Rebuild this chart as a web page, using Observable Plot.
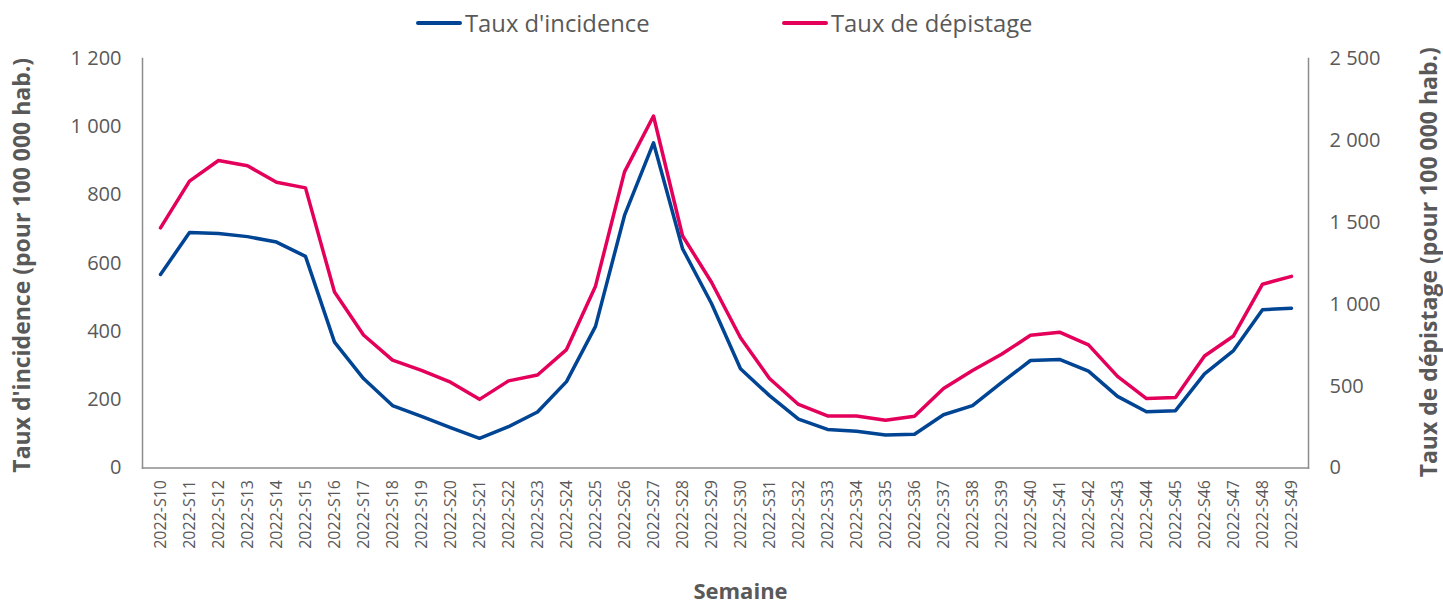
<!DOCTYPE html>
<html><head><meta charset="utf-8">
<script src="https://cdn.jsdelivr.net/npm/d3@7"></script>
<script src="https://cdn.jsdelivr.net/npm/@observablehq/plot@0.6"></script>
<style>
body{margin:0;background:#fff;font-family:"Open Sans",sans-serif;}
#wrap{position:relative;width:1443px;height:609px;}
#legend{position:absolute;left:0;top:0;height:46px;width:1443px;z-index:2;}
.item{position:absolute;top:0;height:46px;display:flex;align-items:center;font-size:23.8px;color:#595959;white-space:nowrap;}
.swatch{width:46px;height:4px;margin-right:3px;border-radius:2px;}
</style></head><body>
<div id="wrap"><div id="legend"></div><div id="chart"></div></div>
<script>
const weeks = ["2022-S10","2022-S11","2022-S12","2022-S13","2022-S14","2022-S15","2022-S16","2022-S17","2022-S18","2022-S19",
"2022-S20","2022-S21","2022-S22","2022-S23","2022-S24","2022-S25","2022-S26","2022-S27","2022-S28","2022-S29",
"2022-S30","2022-S31","2022-S32","2022-S33","2022-S34","2022-S35","2022-S36","2022-S37","2022-S38","2022-S39",
"2022-S40","2022-S41","2022-S42","2022-S43","2022-S44","2022-S45","2022-S46","2022-S47","2022-S48","2022-S49"];
const incidence = [567, 690, 687, 678, 662, 620, 369, 262, 183, 151, 118, 87, 121, 164, 253, 415, 740, 953, 643, 482,
291, 212, 143, 113, 108, 97, 99, 156, 183, 250, 315, 318, 284, 210, 165, 168, 276, 344, 464, 468];
const depistage = [1466, 1751, 1877, 1845, 1744, 1710, 1074, 812, 659, 596, 524, 419, 532, 568, 723, 1110, 1808, 2149, 1418, 1134,
795, 546, 388, 318, 318, 292, 316, 485, 595, 694, 810, 829, 752, 559, 424, 430, 684, 806, 1122, 1170];
const leftTicks = [0, 200, 400, 600, 800, 1000, 1200];
const rightTicks = [0, 500, 1000, 1500, 2000, 2500];
const seriesNames = ["Taux d'incidence", "Taux de dépistage"];
const leftTitle = "Taux d'incidence (pour 100 000 hab.)";
const rightTitle = "Taux de dépistage (pour 100 000 hab.)";
const xTitle = "Semaine";

const blue = "#004494", red = "#E4005A", gray = "#595959", axisGray = "#8c8c8c";
const leftMax = 1200, rightMax = 2500, ratio = leftMax / rightMax;
const fmt = d3.formatLocale({decimal: ",", thousands: " ", grouping: [3], currency: ["", " €"]}).format(",");

const data = weeks.map((w, i) => ({week: w, inc: incidence[i], dep: depistage[i]}));

// legend
const legend = document.getElementById("legend");
[[seriesNames[0], blue, 416], [seriesNames[1], red, 782]].forEach(([name, c, left]) => {
  const it = document.createElement("div");
  it.className = "item"; it.style.left = left + "px";
  it.innerHTML = `<span class="swatch" style="background:${c}"></span><span>${name}</span>`;
  legend.appendChild(it);
});

const chart = Plot.plot({
  width: 1443, height: 609,
  marginTop: 58, marginBottom: 141.5, marginLeft: 142, marginRight: 135,
  style: {fontFamily: "Open Sans", color: gray, background: "white"},
  x: {type: "point", domain: weeks, padding: 0.5},
  y: {domain: [0, leftMax]},
  marks: [
    Plot.axisX({tickRotate: -90, tickSize: 0, tickPadding: 12, fontSize: 16, label: null}),
    Plot.axisY({anchor: "left", ticks: leftTicks, tickSize: 0, tickPadding: 21, fontSize: 20, tickFormat: fmt, label: null}),
    Plot.axisY({anchor: "right", ticks: rightTicks.map(v => v * ratio), tickSize: 0, tickPadding: 21, fontSize: 20,
      tickFormat: d => fmt(Math.round(d / ratio)), label: null}),
    Plot.frame({anchor: "left", stroke: axisGray, strokeWidth: 1.5}),
    Plot.frame({anchor: "right", stroke: axisGray, strokeWidth: 1.5}),
    Plot.frame({anchor: "bottom", stroke: axisGray, strokeWidth: 1.5}),
    Plot.line(data, {x: "week", y: d => d.dep * ratio, stroke: red, strokeWidth: 3.5}),
    Plot.line(data, {x: "week", y: "inc", stroke: blue, strokeWidth: 3.5}),
    Plot.text([leftTitle], {frameAnchor: "left", textAnchor: "middle", lineAnchor: "middle", dx: -120, dy: 2, rotate: -90, fontSize: 23, fontWeight: "bold", fill: gray}),
    Plot.text([rightTitle], {frameAnchor: "right", textAnchor: "middle", lineAnchor: "middle", dx: 121, dy: -1, rotate: -90, fontSize: 23, fontWeight: "bold", fill: gray}),
    Plot.text([xTitle], {frameAnchor: "bottom", dx: 15, dy: 131, fontSize: 22, fontWeight: "bold", fill: gray})
  ]
});
document.getElementById("chart").appendChild(chart);
</script>
</body></html>
